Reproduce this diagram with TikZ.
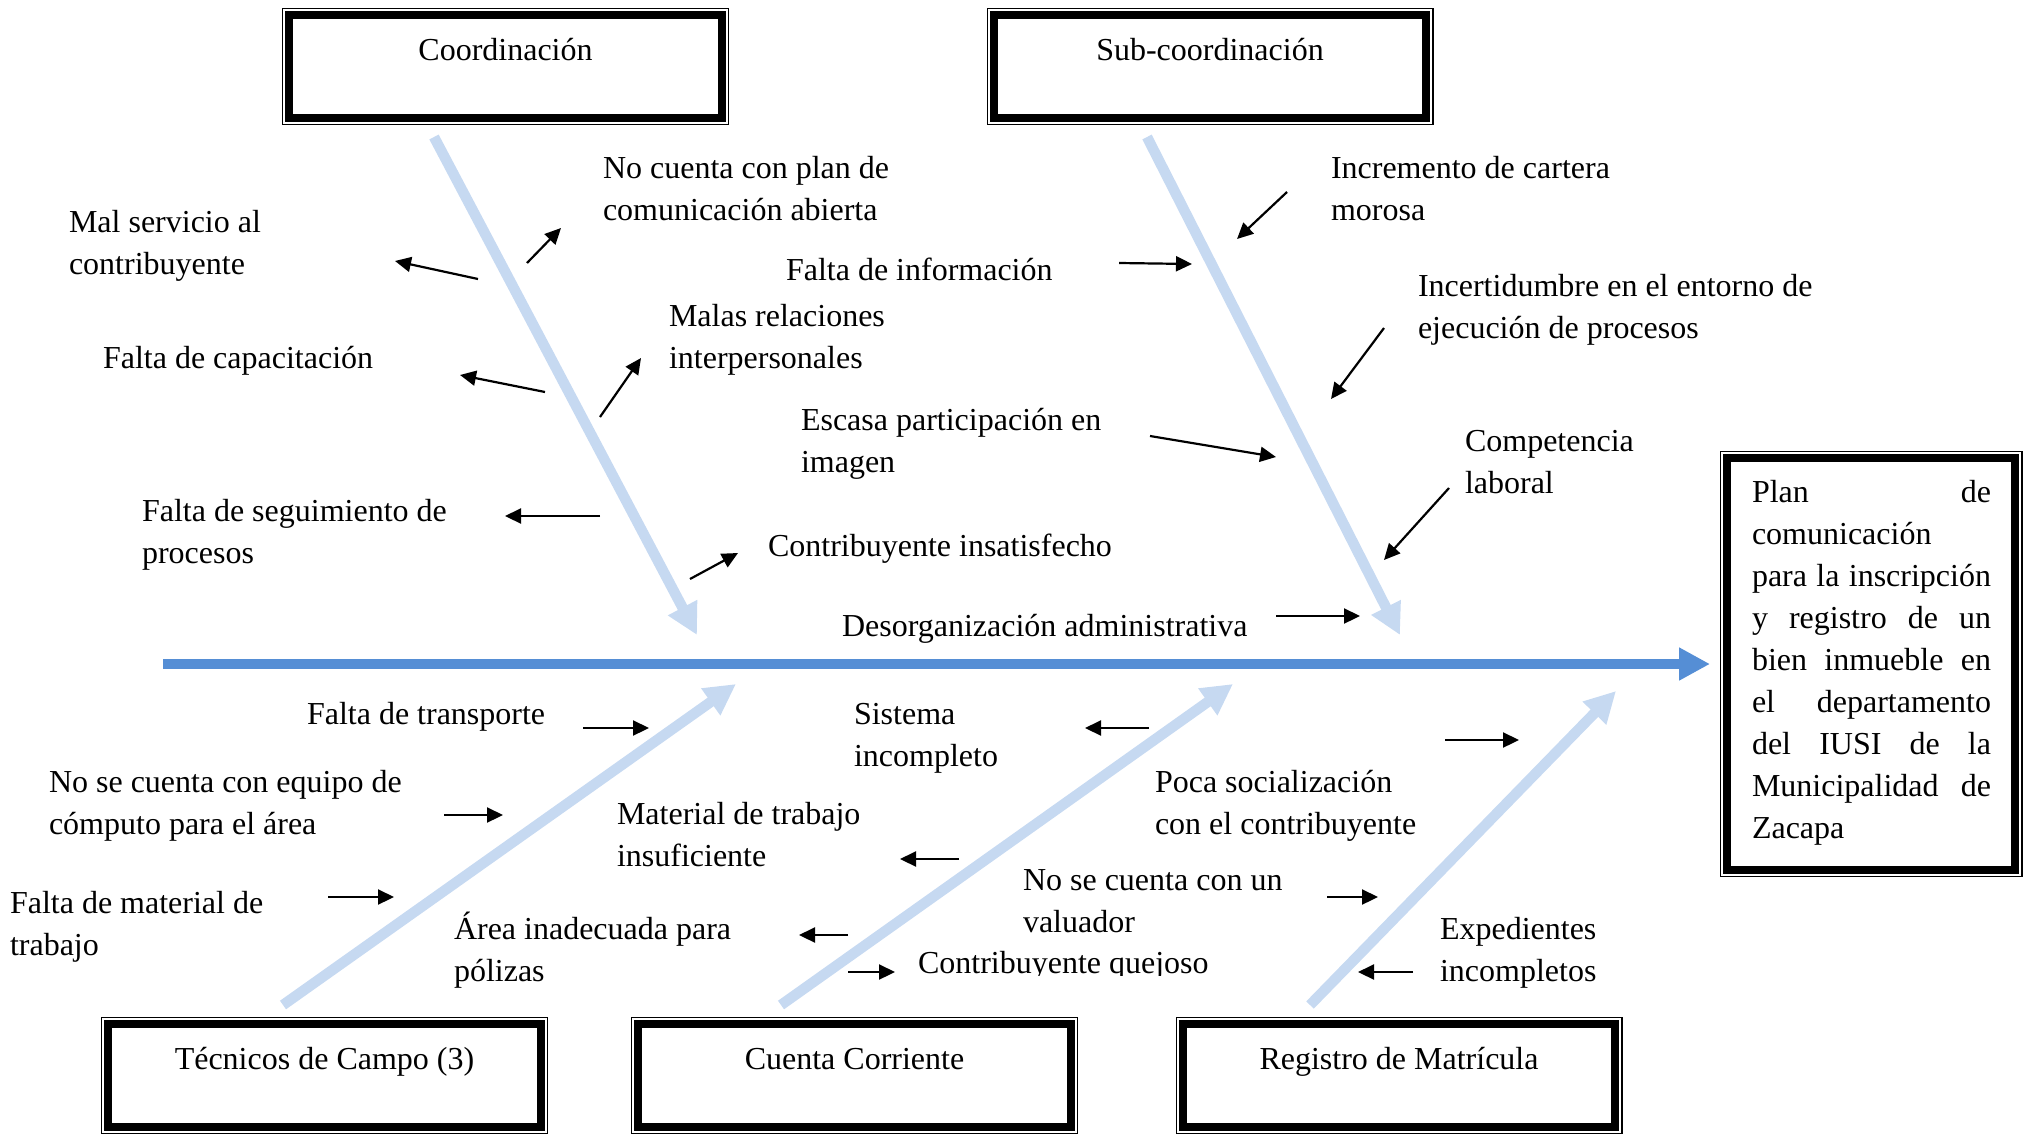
\documentclass[tikz,border=0pt]{standalone}
\usepackage{fontspec}
\setmainfont{Liberation Serif}
\usetikzlibrary{arrows.meta,calc}

\definecolor{spineblue}{RGB}{85,142,213}
\definecolor{bonelight}{RGB}{198,217,241}

% two stacked lines whose baseline is the first line
\newcommand\twoln[2]{\vtop{\hbox{#1}\hbox{#2}}}
% one justified line of the effect box
\newcommand\jline[1]{\hbox to 239pt{#1}}

\begin{document}
\begin{tikzpicture}[x=1pt,y=-1pt,
  every node/.style={font=\fontsize{32}{42}\selectfont, inner sep=0pt, outer sep=0pt},
  lbl/.style={anchor=base west},
  ttl/.style={anchor=base},
  catbox/.style={draw, line width=1.2pt, minimum width=445.8pt, minimum height=116.3pt},
  effbox/.style={draw, line width=1.2pt, minimum width=301.4pt, minimum height=425.4pt},
  spine/.style={draw=spineblue, line width=9.5pt, -{Triangle[length=31pt,width=31pt]}},
  bone/.style={draw=bonelight, line width=10.5pt, -{Triangle[length=31pt,width=31pt]}},
  cause/.style={draw=black, line width=2.2pt, -{Triangle[length=16pt,width=15pt]}},
]
\useasboundingbox (0,0) rectangle (2028,1135);

% ---------- category boxes (thin outer frame + thick inner frame) ----------
\node[catbox] (coord) at (505.5,66.3) {};
\node[catbox] (subc)  at (1210,66.3) {};
\node[catbox] (tec)   at (324.5,1075.5) {};
\node[catbox] (cta)   at (854.5,1075.5) {};
\node[catbox] (reg)   at (1399,1075.5) {};
\node[effbox] (plan)  at (1871.3,664) {};
\foreach \b in {coord,subc,tec,cta,reg,plan}{
  \draw[line width=8pt] ([shift={(6.8,6.8)}]\b.north west) rectangle ([shift={(-6.8,-6.8)}]\b.south east);
}

\node[ttl] (coordT) at ($(coord.north)+(0,52)$) {Coordinación};
\node[ttl] (subcT)  at ($(subc.north)+(0,52)$) {Sub-coordinación};
\node[ttl] (tecT)   at ($(tec.north)+(0,52)$) {Técnicos de Campo (3)};
\node[ttl] (ctaT)   at ($(cta.north)+(0,52)$) {Cuenta Corriente};
\node[ttl] (regT)   at ($(reg.north)+(0,52)$) {Registro de Matrícula};

\node[lbl] (planT) at (1752,502) {\vtop{%
  \jline{Plan\hfill de}
  \jline{comunicación\hfill}
  \jline{para\hfill la\hfill inscripción}
  \jline{y\hfill registro\hfill de\hfill un}
  \jline{bien\hfill inmueble\hfill en}
  \jline{el\hfill departamento}
  \jline{del\hfill IUSI\hfill de\hfill la}
  \jline{Municipalidad\hfill de}
  \jline{Zacapa\hfill}}};

% ---------- spine and bones ----------
\coordinate (spL) at (163,664);
\coordinate (spR) at (1710,664);
\draw[spine] (spL) -- (spR);

\coordinate (b1s) at (434,137);  \coordinate (b1e) at (697,635);
\coordinate (b2s) at (1147,137); \coordinate (b2e) at (1400,635);
\coordinate (b3s) at (283,1005); \coordinate (b3e) at (736,684);
\coordinate (b4s) at (781,1005); \coordinate (b4e) at (1233,684);
\coordinate (b5s) at (1310,1005);\coordinate (b5e) at (1616,691);
\foreach \i in {1,...,5}{ \draw[bone] (b\i s) -- (b\i e); }

% ---------- cause labels ----------
\node[lbl] (l1)  at (69,232)   {\twoln{Mal servicio al}{contribuyente}};
\node[lbl] (l2)  at (603,178)  {\twoln{No cuenta con plan de}{comunicación abierta}};
\node[lbl] (l3)  at (103,368)  {Falta de capacitación};
\node[lbl] (l4)  at (669,326)  {\twoln{Malas relaciones}{interpersonales}};
\node[lbl] (l5)  at (142,521)  {\twoln{Falta de seguimiento de}{procesos}};
\node[lbl] (l6)  at (768,556)  {Contribuyente insatisfecho};
\node[lbl] (l7)  at (786,280)  {Falta de información};
\node[lbl] (l8)  at (801,430)  {\twoln{Escasa participación en}{imagen}};
\node[lbl] (l9)  at (842,636)  {Desorganización administrativa};
\node[lbl] (l10) at (1331,178) {\twoln{Incremento de cartera}{morosa}};
\node[lbl] (l11) at (1418,296) {\twoln{Incertidumbre en el entorno de}{ejecución de procesos}};
\node[lbl] (l12) at (1465,451) {\twoln{Competencia}{laboral}};

\node[lbl] (m1)  at (307,724)  {Falta de transporte};
\node[lbl] (m2)  at (49,792)   {\twoln{No se cuenta con equipo de}{cómputo para el área}};
\node[lbl] (m3)  at (10,913)   {\twoln{Falta de material de}{trabajo}};
\node[lbl] (m4)  at (617,824)  {\twoln{Material de trabajo}{insuficiente}};
\node[lbl] (m5)  at (454,939)  {\twoln{Área inadecuada para}{pólizas}};
\node[lbl] (m6)  at (854,724)  {\twoln{Sistema}{incompleto}};
\node[lbl] (m7)  at (1155,792) {\twoln{Poca socialización}{con el contribuyente}};
\node[lbl] (m8)  at (1023,890) {\twoln{No se cuenta con un}{valuador}};
\begin{scope}
  \clip (900,930) rectangle (1250,975.5);
  \node[lbl] (m9) at (918,973) {Contribuyente quejoso};
\end{scope}
\node[lbl] (m10) at (1440,939) {\twoln{Expedientes}{incompletos}};

% ---------- small cause arrows ----------
\coordinate (a1s) at (527,263);  \coordinate (a1e) at (561,228);
\coordinate (a2s) at (478,279);  \coordinate (a2e) at (395,261);
\coordinate (a3s) at (545,392);  \coordinate (a3e) at (460,375);
\coordinate (a4s) at (600,417);  \coordinate (a4e) at (641,358);
\coordinate (a5s) at (600,516);  \coordinate (a5e) at (505,516);
\coordinate (a6s) at (690,579);  \coordinate (a6e) at (738,553);
\coordinate (a7s) at (1287,192); \coordinate (a7e) at (1237,239);
\coordinate (a8s) at (1119,263); \coordinate (a8e) at (1192,264);
\coordinate (a9s) at (1384,328); \coordinate (a9e) at (1331,399);
\coordinate (a10s) at (1150,436); \coordinate (a10e) at (1276,457);
\coordinate (a11s) at (1449,488); \coordinate (a11e) at (1384,560);
\coordinate (a12s) at (1276,616); \coordinate (a12e) at (1360,616);
\coordinate (a13s) at (583,728);  \coordinate (a13e) at (649,728);
\coordinate (a14s) at (444,815);  \coordinate (a14e) at (503,815);
\coordinate (a15s) at (328,897);  \coordinate (a15e) at (394,897);
\coordinate (a16s) at (1149,728); \coordinate (a16e) at (1085,728);
\coordinate (a17s) at (959,859);  \coordinate (a17e) at (900,859);
\coordinate (a18s) at (848,935);  \coordinate (a18e) at (799,935);
\coordinate (a19s) at (848,972);  \coordinate (a19e) at (895,972);
\coordinate (a20s) at (1445,740); \coordinate (a20e) at (1519,740);
\coordinate (a21s) at (1327,897); \coordinate (a21e) at (1378,897);
\coordinate (a22s) at (1413,972); \coordinate (a22e) at (1358,972);
\foreach \i in {1,...,22}{ \draw[cause] (a\i s) -- (a\i e); }
\end{tikzpicture}
\end{document}
